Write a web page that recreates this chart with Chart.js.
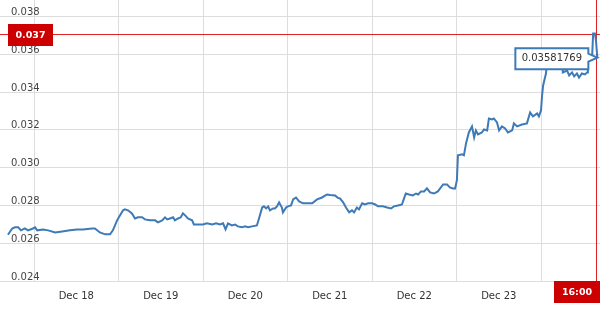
<!DOCTYPE html>
<html>
<head>
<meta charset="utf-8">
<script src="https://cdn.jsdelivr.net/npm/chart.js@4"></script>
<style>
  body { margin: 0; background: #fff; }
  #wrap { width: 600px; height: 310px; }
</style>
</head>
<body>
<div id="wrap"><canvas id="chart" width="600" height="310"></canvas></div>
<script>
// hours counted from Dec 18 00:00
let hours = [
    -7.4, -6.2, -5.4, -4.5, -3.7, -2.6, -1.7, -0.3, 0.3, 0.9,
    2.6, 4.0, 6.0, 8.0, 10.2, 12.2, 13.9, 16.5, 17.3, 18.7,
    20.2, 21.6, 22.4, 23.6, 24.1, 25.3, 25.8, 26.7, 27.8, 28.7,
    29.5, 30.7, 31.5, 32.9, 34.4, 35.2, 36.4, 37.2, 37.8, 38.6,
    39.5, 40.0, 40.9, 41.7, 42.3, 43.2, 43.7, 44.9, 45.4, 46.6,
    48.0, 49.1, 50.6, 51.7, 52.8, 53.7, 54.4, 55.1, 56.2, 57.1,
    57.9, 59.1, 59.9, 60.8, 61.9, 63.3, 63.9, 64.8, 65.3, 65.9,
    66.5, 67.0, 67.9, 68.4, 69.0, 69.6, 70.4, 70.7, 71.6, 72.1,
    73.0, 73.6, 74.4, 75.3, 76.4, 77.5, 79.0, 80.4, 81.8, 83.2,
    84.1, 85.5, 86.3, 86.9, 87.8, 88.6, 89.5, 90.3, 90.9, 91.7,
    92.3, 93.2, 94.0, 94.9, 96.0, 96.9, 97.7, 99.1, 100.3, 101.4,
    102.2, 103.4, 104.5, 105.1, 105.6, 106.5, 107.6, 108.5, 109.1, 109.9,
    110.8, 111.6, 112.5, 113.6, 114.7, 116.2, 117.3, 118.1, 119.0, 119.6,
    120.1, 120.4, 121.6, 122.1, 122.7, 123.5, 124.4, 125.0, 125.5, 126.1,
    127.2, 127.8, 128.7, 129.2, 130.1, 130.6, 131.5, 132.1, 132.9, 133.8,
    134.6, 135.8, 136.3, 137.2, 138.6, 140.0, 140.9, 141.7, 142.9, 143.4,
    144.0, 144.3, 144.6, 144.8, 145.4, 145.7, 147.1, 148.5, 150.0, 150.2,
    151.4, 152.0, 152.8, 153.4, 154.2, 154.8, 155.6, 156.5, 157.1, 157.3,
    158.5, 158.8, 159.3, 159.6, 160
]
let rates = [
    0.02645, 0.02678, 0.02684, 0.02684, 0.02668, 0.02678, 0.02668, 0.02678, 0.02684, 0.02668,
    0.02673, 0.02668, 0.02657, 0.02662, 0.02668, 0.02673, 0.02673, 0.02678, 0.02678, 0.02657,
    0.02647, 0.02647, 0.02668, 0.02721, 0.02737, 0.02774, 0.02779, 0.02774, 0.02758, 0.02731,
    0.02737, 0.02737, 0.02726, 0.02721, 0.02721, 0.02710, 0.02721, 0.02737, 0.02726, 0.02731,
    0.02737, 0.02721, 0.02731, 0.02737, 0.02758, 0.02742, 0.02731, 0.02721, 0.02699, 0.02699,
    0.02699, 0.02705, 0.02699, 0.02705, 0.02699, 0.02705, 0.02673, 0.02705, 0.02694, 0.02699,
    0.02689, 0.02684, 0.02689, 0.02684, 0.02689, 0.02694, 0.02731, 0.02789, 0.02795, 0.02784,
    0.02795, 0.02774, 0.02784, 0.02784, 0.02795, 0.02816, 0.02789, 0.02763, 0.02789, 0.02795,
    0.02800, 0.02832, 0.02842, 0.02821, 0.02811, 0.02811, 0.02811, 0.02832, 0.02842, 0.02858,
    0.02855, 0.02853, 0.02840, 0.02837, 0.02816, 0.02789, 0.02763, 0.02774, 0.02763, 0.02789,
    0.02779, 0.02811, 0.02805, 0.02811, 0.02811, 0.02805, 0.02795, 0.02795, 0.02789, 0.02784,
    0.02795, 0.02800, 0.02805, 0.02837, 0.02863, 0.02858, 0.02853, 0.02863, 0.02858, 0.02874,
    0.02874, 0.02890, 0.02869, 0.02863, 0.02874, 0.02911, 0.02911, 0.02895, 0.02890, 0.02890,
    0.02932, 0.03065, 0.03070, 0.03065, 0.03128, 0.03186, 0.03218, 0.03160, 0.03197, 0.03176,
    0.03186, 0.03202, 0.03197, 0.03260, 0.03255, 0.03260, 0.03239, 0.03197, 0.03218, 0.03207,
    0.03186, 0.03197, 0.03234, 0.03218, 0.03228, 0.03234, 0.03292, 0.03271, 0.03287, 0.03271,
    0.03303, 0.03382, 0.03435, 0.03435, 0.03498, 0.03557, 0.03567, 0.03551, 0.03557, 0.03504,
    0.03514, 0.03488, 0.03504, 0.03483, 0.03498, 0.03477, 0.03498, 0.03493, 0.03504, 0.03567,
    0.03583, 0.03710, 0.03710, 0.03673, 0.03581769
]
let dayLabels = ['Dec 18', 'Dec 19', 'Dec 20', 'Dec 21', 'Dec 22', 'Dec 23']
let yTicks = [0.024, 0.026, 0.028, 0.030, 0.032, 0.034, 0.036, 0.038]
let markLevel = 0.037
let lastTimeLabel = '16:00'

const lineColor = '#3e7ab6'
const red = '#cc0000'
const font = 'DejaVu Sans'

// midnight ticks get a grid line, noon ticks get the day label
let xTicks = []
for (let i = 0; i <= dayLabels.length; i++) {
    xTicks.push(i * 24)
    if (i < dayLabels.length) xTicks.push(i * 24 + 12)
}

const marks = {
    id: 'marks',
    beforeDatasetsDraw(chart) {
        let c = chart.ctx
        let area = chart.chartArea
        let x = Math.round(chart.scales.x.getPixelForValue(hours[hours.length - 1])) - 0.5
        let y = Math.round(chart.scales.y.getPixelForValue(markLevel)) - 0.5
        c.save()
        c.globalAlpha = 1
        c.setLineDash([])
        c.strokeStyle = 'rgb(221, 34, 34)'
        c.lineWidth = 1
        c.beginPath()
        c.moveTo(area.left, y)
        c.lineTo(area.right, y)
        c.stroke()
        c.beginPath()
        c.moveTo(x, 0)
        c.lineTo(x, area.bottom)
        c.stroke()
        c.restore()
    },
    afterDraw(chart) {
        let c = chart.ctx
        let area = chart.chartArea
        let xs = chart.scales.x
        let ys = chart.scales.y
        let lx = xs.getPixelForValue(hours[hours.length - 1])
        let my = ys.getPixelForValue(markLevel)
        c.save()
        // level box on the left
        c.fillStyle = red
        c.fillRect(area.left + 8, Math.round(my) - 11, 45, 22)
        c.fillStyle = '#fff'
        c.font = 'bold 9.5px ' + font
        c.textAlign = 'center'
        c.textBaseline = 'middle'
        c.fillText(markLevel.toFixed(3), area.left + 30.5, Math.round(my) + 0.5)
        // time box under the x axis
        c.fillStyle = red
        c.fillRect(Math.round(lx) - 43, area.bottom, chart.width - Math.round(lx) + 43, 22)
        c.fillStyle = '#fff'
        c.fillText(lastTimeLabel, Math.round(lx) - 20, area.bottom + 11.5)
        // last value bubble
        let last = rates[rates.length - 1]
        let py = ys.getPixelForValue(last)
        let right = lx - 9
        let left = right - 73
        let top = py - 9.5
        let bottom = py + 11.5
        c.beginPath()
        c.moveTo(left, top)
        c.lineTo(right, top)
        c.lineTo(right, py - 4)
        c.lineTo(lx, py)
        c.lineTo(right, py + 4)
        c.lineTo(right, bottom)
        c.lineTo(left, bottom)
        c.closePath()
        c.fillStyle = '#fff'
        c.fill()
        c.strokeStyle = lineColor
        c.lineWidth = 2
        c.stroke()
        c.fillStyle = '#333'
        c.font = '10px ' + font
        c.fillText(last.toFixed(8), (left + right) / 2, py + 1)
        c.restore()
    }
}

let ctx = document.getElementById('chart').getContext('2d')
let chart = new Chart(ctx, {
    type: 'line',
    data: {
        datasets: [{
            data: hours.map((h, i) => ({ x: h, y: rates[i] })),
            borderColor: lineColor,
            borderWidth: 2,
            pointRadius: 0,
            tension: 0,
            fill: false
        }]
    },
    options: {
        responsive: false,
        animation: false,
        devicePixelRatio: 1,
        layout: { padding: 0 },
        plugins: {
            legend: { display: false },
            tooltip: { enabled: false }
        },
        scales: {
            x: {
                type: 'linear',
                min: -9.66,
                max: 160.75,
                afterBuildTicks: (scale) => { scale.ticks = xTicks.map(v => ({ value: v })) },
                afterFit: (scale) => { scale.height = 29; scale.paddingLeft = 0; scale.paddingRight = 0 },
                ticks: {
                    autoSkip: false,
                    maxRotation: 0,
                    padding: 9,
                    color: '#333',
                    font: { family: font, size: 10 },
                    callback: (v) => (v % 24 === 12 ? dayLabels[(v - 12) / 24] : '')
                },
                grid: {
                    color: (c) => (c.tick && c.tick.value % 24 === 0 ? '#dddddd' : 'rgba(0,0,0,0)'),
                    drawTicks: false
                },
                border: { display: false }
            },
            y: {
                min: 0.024,
                max: 0.03887,
                afterBuildTicks: (scale) => { scale.ticks = yTicks.map(v => ({ value: v })) },
                afterFit: (scale) => { scale.width = 0; scale.paddingTop = 0; scale.paddingBottom = 0 },
                ticks: {
                    mirror: true,
                    padding: 11,
                    labelOffset: -4,
                    color: '#444',
                    font: { family: font, size: 10 },
                    callback: (v) => v.toFixed(3)
                },
                grid: { color: '#dddddd', drawTicks: false },
                border: { display: false }
            }
        }
    },
    plugins: [marks]
})
</script>
</body>
</html>
